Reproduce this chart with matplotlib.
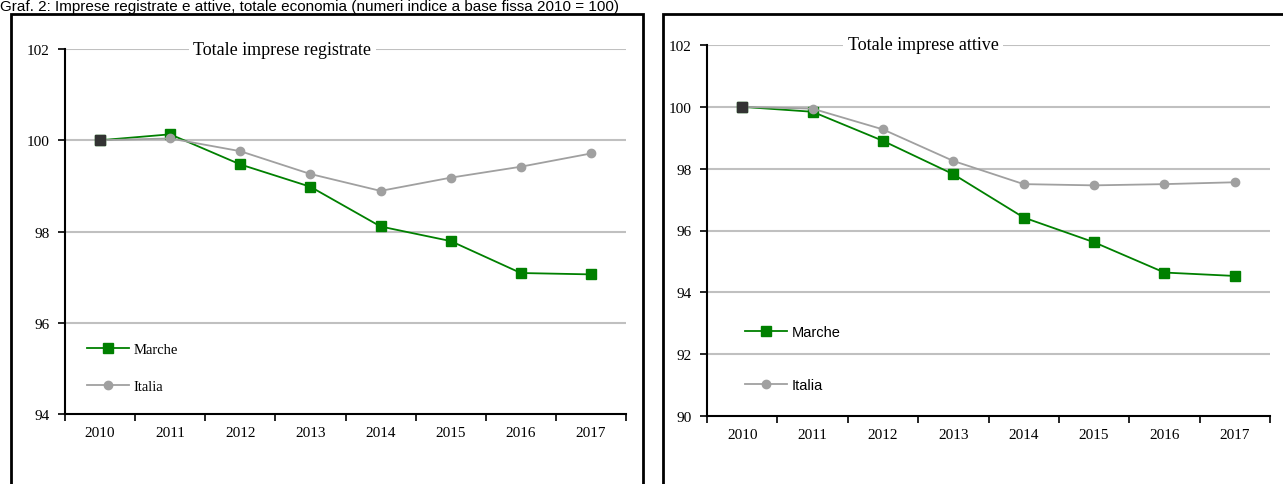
import numpy as np
import matplotlib
matplotlib.use("Agg")
import matplotlib.pyplot as plt
from matplotlib.patches import Rectangle

# Data (numeri indice, 2010 = 100)
anni = ["2010", "2011", "2012", "2013", "2014", "2015", "2016", "2017"]
reg_marche = [100.0, 100.13, 99.47, 98.98, 98.11, 97.79, 97.09, 97.06]
reg_italia = [100.0, 100.04, 99.76, 99.26, 98.89, 99.18, 99.42, 99.71]
att_marche = [100.0, 99.84, 98.90, 97.82, 96.42, 95.62, 94.64, 94.53]
att_italia = [100.0, 99.94, 99.27, 98.25, 97.50, 97.46, 97.50, 97.56]

SERIF = "Liberation Serif"
SANS = "Liberation Sans"
GREEN = "#008000"
GREY = "#A0A0A0"
GRID = "#C0C0C0"

fig = plt.figure(figsize=(12.83, 4.85), dpi=100)
W, H = 1283.0, 485.0

fig.text(0.0, 1 - 11 / H, "Graf. 2: Imprese registrate e attive, totale economia "
         "(numeri indice a base fissa 2010 = 100)", family=SANS, fontsize=11,
         va="baseline", ha="left")

# frames around the two panels
for x0, x1 in [(11, 643), (663, 1300)]:
    fig.add_artist(Rectangle((x0 / W, -0.1), (x1 - x0) / W, 1.1 - 15 / H,
                             transform=fig.transFigure, fill=False,
                             edgecolor="black", linewidth=2))


def panel(rect, marche, italia, ylim, title, title_x, leg_font, leg_anchor, leg_space):
    ax = fig.add_axes(rect)
    x = np.arange(len(anni))
    ax.plot(x, marche, color=GREEN, lw=1.3, marker="s", ms=6.5, zorder=3,
            label="Marche")
    ax.plot(x, italia, color=GREY, lw=1.3, marker="o", ms=6, zorder=4,
            label="Italia")
    ax.plot(x[:1], marche[:1], linestyle="none", marker="s", ms=6.5,
            color="#333333", zorder=5)
    ax.set_xlim(-0.5, len(anni) - 0.5)
    ax.set_ylim(*ylim)
    yt = np.arange(ylim[0], ylim[1] + 1, 2)
    ax.set_yticks(yt)
    for v in yt[1:]:
        ax.axhline(v, color=GRID, lw=1.5, zorder=1)
    ax.set_xticks(np.arange(-0.5, len(anni), 1.0))
    ax.set_xticklabels([])
    ax.set_xticks(x, minor=True)
    ax.set_xticklabels(anni, minor=True)
    ax.tick_params(axis="x", which="minor", length=0, pad=9)
    ax.tick_params(axis="x", which="major", length=5, width=1.2, direction="out")
    ax.tick_params(axis="y", length=5, width=1.2, direction="out", pad=6)
    for lab in ax.get_xticklabels(minor=True) + ax.get_yticklabels():
        lab.set_family(SERIF)
        lab.set_fontsize(11)
    for s in ["top", "right"]:
        ax.spines[s].set_visible(False)
    for s in ["left", "bottom"]:
        ax.spines[s].set_linewidth(1.5)
    ax.text(title_x, ylim[1], title, family=SERIF, fontsize=13, ha="center",
            va="center", zorder=6,
            bbox=dict(facecolor="white", edgecolor="none", pad=3))
    ax.legend(loc="center left", bbox_to_anchor=leg_anchor, frameon=False,
              borderaxespad=0, borderpad=0, handlelength=2.9, handletextpad=0.3,
              labelspacing=leg_space, prop={"family": leg_font, "size": 10.5})
    return ax


panel([65 / W, 70 / H, 561 / W, 365 / H], reg_marche, reg_italia, (94, 102),
      "Totale imprese registrate", 2.6, SERIF, (0.039, 0.126), 1.6)
panel([707 / W, 68 / H, 563 / W, 371 / H], att_marche, att_italia, (90, 102),
      "Totale imprese attive", 2.57, SANS, (0.0675, 0.155), 2.7)

fig.savefig("out.png", dpi=100)
